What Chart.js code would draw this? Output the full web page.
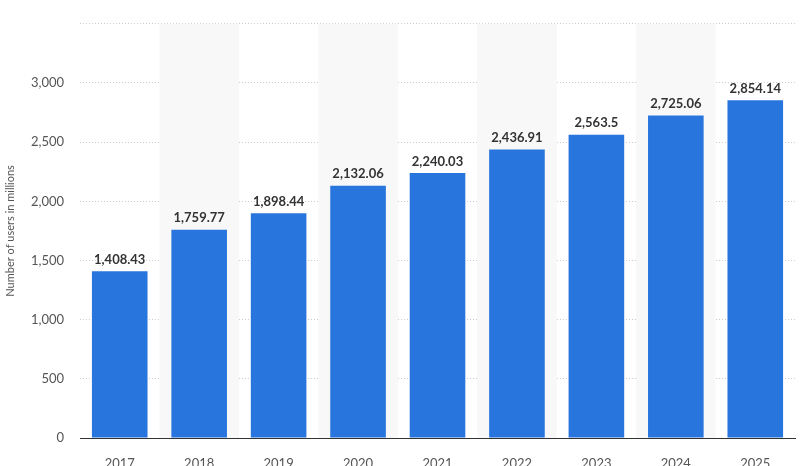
<!DOCTYPE html>
<html><head><meta charset="utf-8">
<script src="https://cdn.jsdelivr.net/npm/chart.js@4/dist/chart.umd.min.js"></script>
<style>html,body{margin:0;padding:0;background:#fff}#w{width:800px;height:466px}</style>
</head><body><div id="w"><canvas id="c"></canvas></div>
<script>
const categories=['2017','2018','2019','2020','2021','2022','2023','2024','2025'];
const users=[1408.43,1759.77,1898.44,2132.06,2240.03,2436.91,2563.5,2725.06,2854.14];
const valueLabels=['1,408.43','1,759.77','1,898.44','2,132.06','2,240.03','2,436.91','2,563.5','2,725.06','2,854.14'];
const bands={id:'bands',beforeDatasetsDraw(ch){const {ctx,chartArea:a,scales:{x}}=ch;const w=(a.right-a.left)/categories.length;ctx.save();ctx.fillStyle='#f8f8f8';categories.forEach((c,i)=>{if(i%2===1)ctx.fillRect(x.getPixelForValue(i)-w/2,a.top,w,a.bottom-a.top);});ctx.restore();}};
const labels={id:'labels',afterDatasetsDraw(ch){const {ctx}=ch;const m=ch.getDatasetMeta(0);ctx.save();ctx.font='bold 13px Lato, "DejaVu Sans", sans-serif';ctx.fillStyle='#333';ctx.textAlign='center';ctx.textBaseline='bottom';m.data.forEach((b,i)=>ctx.fillText(valueLabels[i],b.x,b.y-5));ctx.restore();}};
new Chart(document.getElementById('c'),{type:'bar',data:{labels:categories,datasets:[{data:users,backgroundColor:'#2876dd',barPercentage:0.7,categoryPercentage:1}]},
options:{responsive:true,maintainAspectRatio:false,animation:false,layout:{padding:{top:12,right:5,left:0,bottom:0}},
plugins:{legend:{display:false},tooltip:{enabled:false}},
scales:{x:{afterFit(s){s.height=28;},grid:{display:false},border:{color:'#333'},ticks:{color:'#555',font:{size:13,family:'Lato'},padding:10}},
y:{min:0,max:3500,afterFit(s){s.width=80;},grid:{color:'#ccc',drawTicks:false},border:{display:false,dash:[1,2]},
ticks:{stepSize:500,color:'#555',padding:16,font:{size:13,family:'Lato'},callback:v=>v===3500?'':v.toLocaleString('en-US')},
title:{display:true,text:'Number of users in millions',color:'#555',font:{size:11,family:'Lato'},padding:{bottom:10}}}}},
plugins:[bands,labels]});
</script></body></html>
